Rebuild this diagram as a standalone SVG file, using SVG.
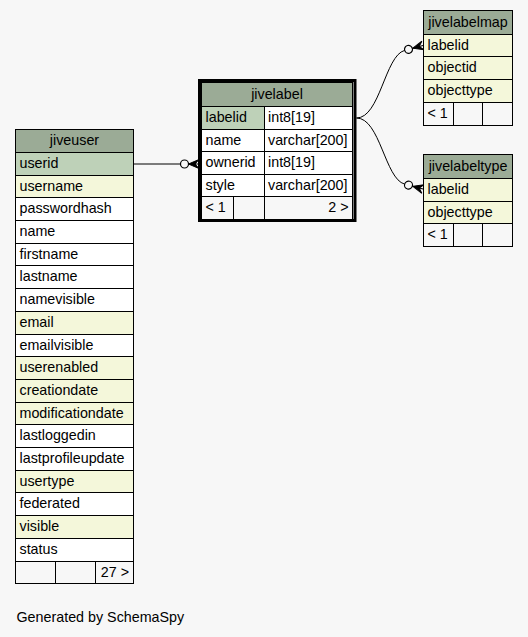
<svg xmlns="http://www.w3.org/2000/svg" width="528" height="637" viewBox="0 0 528 637">
<style>
text{font-family:"Liberation Sans",Arial,Helvetica,sans-serif;font-size:14.3px;fill:#000}
.c{text-anchor:middle}
.e{text-anchor:end}
rect{stroke:#000;stroke-width:1}
.h{fill:#9bab96}
.p{fill:#bed1b8}
.i{fill:#f4f7da}
.w{fill:#ffffff}
.f{fill:#f7f7f7}
.ln{fill:none;stroke:#000;stroke-width:1}
.ci{fill:#f7f7f7;stroke:#000;stroke-width:1.2}
.cr{fill:#000;stroke:#000;stroke-width:1}
</style>
<rect x="0" y="0" width="528" height="637" style="fill:#f7f7f7;stroke:none"/>

<g id="connectors">
  <path class="ln" d="M133.5,164 L180.5,164"/>
  <circle class="ci" cx="184.5" cy="164" r="4"/>
  <path class="cr" d="M199,159.5 L188.5,164 L199,168.5 L195,164 Z"/>
  <path class="ln" d="M188.5,164 L199,164"/>

  <path class="ln" d="M356.5,118 C380,118 385,55.6 404.6,50.4"/>
  <g transform="translate(423,45.5) rotate(-15)">
    <circle class="ci" cx="-15" cy="0" r="4"/>
    <path class="cr" d="M0,-4.5 L-10.5,0 L0,4.5 L-4,0 Z"/>
    <path class="ln" d="M-10.5,0 L0,0"/>
  </g>

  <path class="ln" d="M356.5,118 C380,118 385,178.9 404.6,184.1"/>
  <g transform="translate(423,189) rotate(15)">
    <circle class="ci" cx="-15" cy="0" r="4"/>
    <path class="cr" d="M0,-4.5 L-10.5,0 L0,4.5 L-4,0 Z"/>
    <path class="ln" d="M-10.5,0 L0,0"/>
  </g>
</g>

<g id="jiveuser">
  <rect class="h" x="15.5" y="129.5" width="118" height="23"/>
  <text class="c" x="74.5" y="145">jiveuser</text>
  <rect class="p" x="15.5" y="152.5" width="118" height="23"/><text x="19.5" y="168">userid</text>
  <rect class="i" x="15.5" y="175.5" width="118" height="22"/><text x="19.5" y="190.5">username</text>
  <rect class="w" x="15.5" y="197.5" width="118" height="23"/><text x="19.5" y="213">passwordhash</text>
  <rect class="w" x="15.5" y="220.5" width="118" height="23"/><text x="19.5" y="236">name</text>
  <rect class="w" x="15.5" y="243.5" width="118" height="22"/><text x="19.5" y="258.5">firstname</text>
  <rect class="w" x="15.5" y="265.5" width="118" height="23"/><text x="19.5" y="281">lastname</text>
  <rect class="w" x="15.5" y="288.5" width="118" height="23"/><text x="19.5" y="304">namevisible</text>
  <rect class="i" x="15.5" y="311.5" width="118" height="23"/><text x="19.5" y="327">email</text>
  <rect class="w" x="15.5" y="334.5" width="118" height="22"/><text x="19.5" y="349.5">emailvisible</text>
  <rect class="i" x="15.5" y="356.5" width="118" height="23"/><text x="19.5" y="372">userenabled</text>
  <rect class="i" x="15.5" y="379.5" width="118" height="23"/><text x="19.5" y="395">creationdate</text>
  <rect class="i" x="15.5" y="402.5" width="118" height="22"/><text x="19.5" y="417.5">modificationdate</text>
  <rect class="w" x="15.5" y="424.5" width="118" height="23"/><text x="19.5" y="440">lastloggedin</text>
  <rect class="w" x="15.5" y="447.5" width="118" height="23"/><text x="19.5" y="463">lastprofileupdate</text>
  <rect class="i" x="15.5" y="470.5" width="118" height="22"/><text x="19.5" y="485.5">usertype</text>
  <rect class="w" x="15.5" y="492.5" width="118" height="23"/><text x="19.5" y="508">federated</text>
  <rect class="i" x="15.5" y="515.5" width="118" height="23"/><text x="19.5" y="531">visible</text>
  <rect class="w" x="15.5" y="538.5" width="118" height="23"/><text x="19.5" y="554">status</text>
  <rect class="f" x="15.5" y="561.5" width="40" height="22"/>
  <rect class="f" x="55.5" y="561.5" width="40" height="22"/>
  <rect class="f" x="95.5" y="561.5" width="38" height="22"/>
  <text class="e" x="129" y="576.5">27 &gt;</text>
</g>

<g id="jivelabel">
  <rect x="199.5" y="80.5" width="155.5" height="140" style="fill:#f7f7f7;stroke:#000;stroke-width:3"/>
  <rect class="h" x="201.5" y="82.5" width="151" height="24"/>
  <text class="c" x="277" y="98.5">jivelabel</text>
  <rect class="p" x="201.5" y="106.5" width="63" height="23"/><text x="205.5" y="122">labelid</text>
  <rect class="w" x="264.5" y="106.5" width="88" height="23"/><text x="268" y="122">int8[19]</text>
  <rect class="w" x="201.5" y="129.5" width="63" height="22"/><text x="205.5" y="144.5">name</text>
  <rect class="w" x="264.5" y="129.5" width="88" height="22"/><text x="268" y="144.5">varchar[200]</text>
  <rect class="w" x="201.5" y="151.5" width="63" height="23"/><text x="205.5" y="167">ownerid</text>
  <rect class="w" x="264.5" y="151.5" width="88" height="23"/><text x="268" y="167">int8[19]</text>
  <rect class="w" x="201.5" y="174.5" width="63" height="22"/><text x="205.5" y="189.5">style</text>
  <rect class="w" x="264.5" y="174.5" width="88" height="22"/><text x="268" y="189.5">varchar[200]</text>
  <rect class="f" x="201.5" y="196.5" width="32" height="23"/><text x="205.5" y="212">&lt; 1</text>
  <rect class="f" x="233.5" y="196.5" width="31" height="23"/>
  <rect class="f" x="264.5" y="196.5" width="88" height="23"/><text class="e" x="348.5" y="212">2 &gt;</text>
</g>

<g id="jivelabelmap">
  <rect class="h" x="423.5" y="10.5" width="89" height="24"/>
  <text class="c" x="468" y="26.5">jivelabelmap</text>
  <rect class="i" x="423.5" y="34.5" width="89" height="22"/><text x="427.5" y="49.5">labelid</text>
  <rect class="i" x="423.5" y="56.5" width="89" height="23"/><text x="427.5" y="72">objectid</text>
  <rect class="i" x="423.5" y="79.5" width="89" height="23"/><text x="427.5" y="95">objecttype</text>
  <rect class="f" x="423.5" y="102.5" width="30" height="23"/><text x="427.5" y="118">&lt; 1</text>
  <rect class="f" x="453.5" y="102.5" width="29" height="23"/>
  <rect class="f" x="482.5" y="102.5" width="30" height="23"/>
</g>

<g id="jivelabeltype">
  <rect class="h" x="423.5" y="154.5" width="89" height="24"/>
  <text class="c" x="468" y="170.5">jivelabeltype</text>
  <rect class="i" x="423.5" y="178.5" width="89" height="23"/><text x="427.5" y="194">labelid</text>
  <rect class="i" x="423.5" y="201.5" width="89" height="22"/><text x="427.5" y="216.5">objecttype</text>
  <rect class="f" x="423.5" y="223.5" width="30" height="23"/><text x="427.5" y="239">&lt; 1</text>
  <rect class="f" x="453.5" y="223.5" width="29" height="23"/>
  <rect class="f" x="482.5" y="223.5" width="30" height="23"/>
</g>

<text x="16.5" y="622">Generated by SchemaSpy</text>
</svg>
